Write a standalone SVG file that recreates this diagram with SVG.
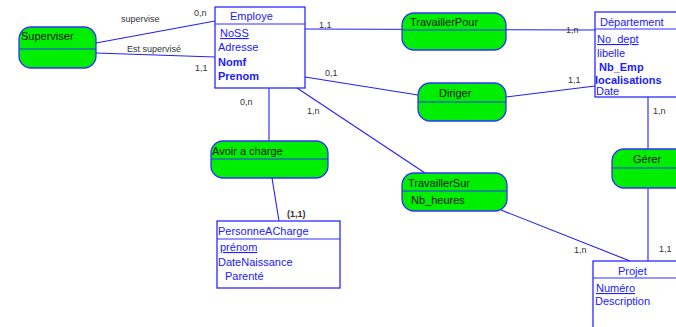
<svg xmlns="http://www.w3.org/2000/svg" width="676" height="327" viewBox="0 0 676 327">
<style>
.ent{fill:#fff;stroke:#2a2aff;stroke-width:1.3}
.rel{fill:#00ee00;stroke:#3030ff;stroke-width:1.3}
.div{stroke:#3030ff;stroke-width:1.2}
.ln{stroke:#2020ff;stroke-width:1.1;fill:none}
text{font-family:"Liberation Sans",Arial,sans-serif}
.et{fill:#2020ff;font-size:11px}
.b{font-weight:bold}
.u{text-decoration:underline}
.rt{fill:#111;font-size:11px}
.card{fill:#333;font-size:9px}
</style>
<rect width="676" height="327" fill="#fff"/>
<g id="connectors">
<line class="ln" x1="96" y1="43" x2="215" y2="21"/>
<line class="ln" x1="96" y1="53" x2="215" y2="57"/>
<line class="ln" x1="305" y1="29" x2="595" y2="30"/>
<line class="ln" x1="305" y1="77" x2="418" y2="95"/>
<line class="ln" x1="506" y1="97" x2="595" y2="86"/>
<line class="ln" x1="269" y1="88" x2="269" y2="141"/>
<line class="ln" x1="272" y1="178" x2="279" y2="221"/>
<line class="ln" x1="297" y1="88" x2="425" y2="173"/>
<line class="ln" x1="501" y1="210" x2="630" y2="261"/>
<line class="ln" x1="648" y1="97" x2="648" y2="149"/>
<line class="ln" x1="648" y1="188" x2="648" y2="261"/>
<text class="card" x="121" y="22">supervise</text>
<text class="card" x="194" y="16">0,n</text>
<text class="card" x="127" y="52">Est supervisé</text>
<text class="card" x="195" y="71">1,1</text>
<text class="card" x="319" y="28">1,1</text>
<text class="card" x="566" y="33">1,n</text>
<text class="card" x="325" y="76">0,1</text>
<text class="card" x="568" y="83">1,1</text>
<text class="card" x="240" y="105">0,n</text>
<text class="card" x="307" y="114">1,n</text>
<text class="card b" x="287" y="217">(1,1)</text>
<text class="card" x="574" y="253">1,n</text>
<text class="card" x="653" y="114">1,n</text>
<text class="card" x="659" y="252">1,1</text>
</g>
<g id="Employe">
<rect class="ent" x="215" y="7" width="90" height="81"/>
<line class="div" x1="215" y1="24" x2="305" y2="24"/>
<text class="et" x="230" y="20">Employe</text>
<text class="et u" x="220" y="37">NoSS</text>
<text class="et" x="218" y="51">Adresse</text>
<text class="et b" x="218" y="66">Nomf</text>
<text class="et b" x="218" y="80">Prenom</text>
</g>
<g id="Superviser">
<rect class="rel" x="19" y="27" width="77" height="41" rx="12"/>
<line class="div" x1="19" y1="49" x2="96" y2="49"/>
<text class="rt" x="21" y="40" font-size="12">Superviser</text>
</g>
<g id="TravaillerPour">
<rect class="rel" x="402" y="13" width="104" height="37" rx="12"/>
<line class="div" x1="402" y1="30" x2="506" y2="30"/>
<text class="rt" x="410" y="26">TravaillerPour</text>
</g>
<g id="Departement">
<rect class="ent" x="595" y="12" width="95" height="85"/>
<line class="div" x1="595" y1="29" x2="690" y2="29"/>
<text class="et" x="600" y="26">Département</text>
<text class="et u" x="597" y="43">No_dept</text>
<text class="et" x="597" y="57">libelle</text>
<text class="et b" x="599" y="71">Nb_Emp</text>
<text class="et b" x="595" y="84">localisations</text>
<text class="et" x="596" y="95">Date</text>
</g>
<g id="Diriger">
<rect class="rel" x="418" y="83" width="88" height="38" rx="12"/>
<line class="div" x1="418" y1="102" x2="506" y2="102"/>
<text class="rt" x="439" y="97">Diriger</text>
</g>
<g id="AvoirACharge">
<rect class="rel" x="211" y="141" width="117" height="37" rx="12"/>
<line class="div" x1="211" y1="159" x2="328" y2="159"/>
<text class="rt" x="212" y="155">Avoir a charge</text>
</g>
<g id="PersonneACharge">
<rect class="ent" x="217" y="221" width="123" height="67"/>
<line class="div" x1="217" y1="239" x2="340" y2="239"/>
<text class="et" x="218" y="235">PersonneACharge</text>
<text class="et u" x="220" y="251">prénom</text>
<text class="et" x="218" y="266">DateNaissance</text>
<text class="et" x="225" y="280">Parenté</text>
</g>
<g id="TravaillerSur">
<rect class="rel" x="402" y="173" width="105" height="38" rx="12"/>
<line class="div" x1="402" y1="191" x2="507" y2="191"/>
<text class="rt" x="408" y="187">TravaillerSur</text>
<text class="rt" x="411" y="204">Nb_heures</text>
</g>
<g id="Gerer">
<rect class="rel" x="612" y="149" width="80" height="39" rx="12"/>
<line class="div" x1="612" y1="168" x2="692" y2="168"/>
<text class="rt" x="633" y="163">Gérer</text>
</g>
<g id="Projet">
<rect class="ent" x="593" y="261" width="100" height="80"/>
<line class="div" x1="593" y1="278" x2="693" y2="278"/>
<text class="et" x="618" y="275">Projet</text>
<text class="et u" x="596" y="292">Numéro</text>
<text class="et" x="595" y="305">Description</text>
</g>
</svg>
